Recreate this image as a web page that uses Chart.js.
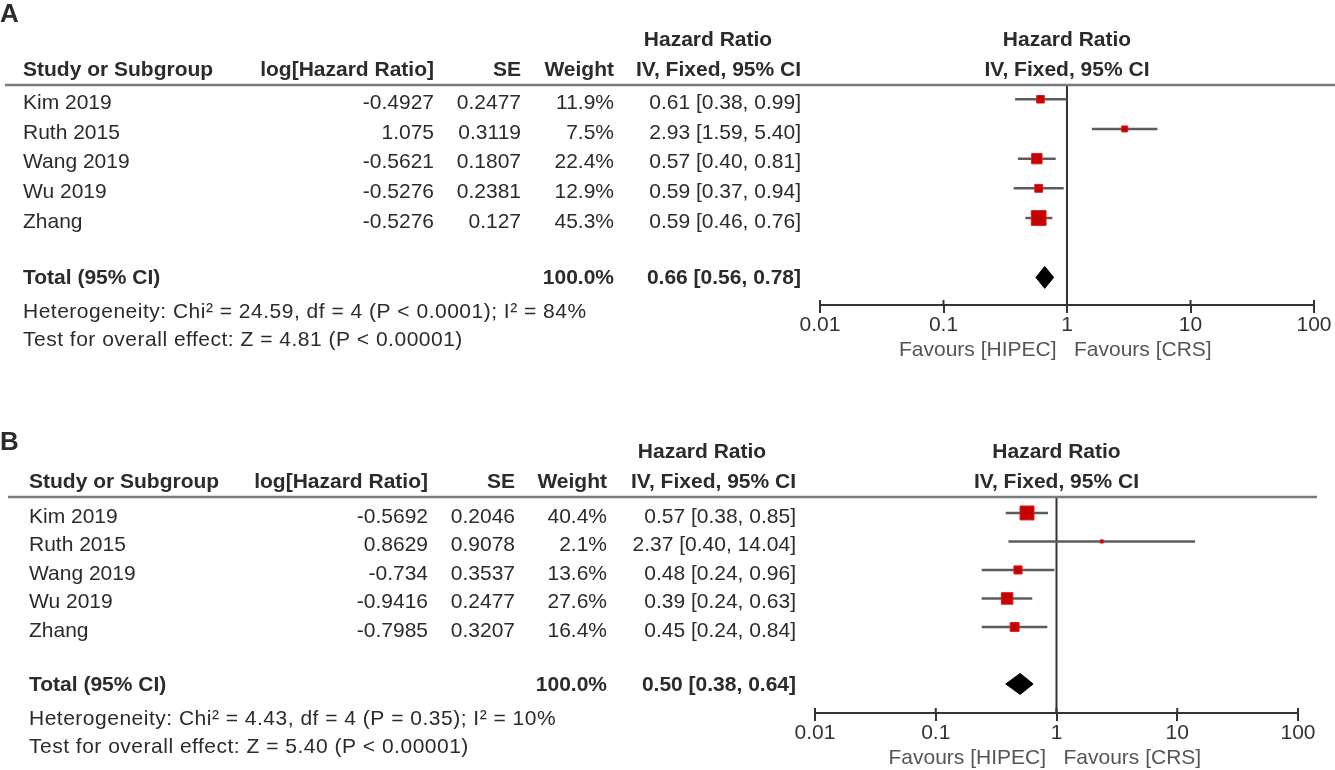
<!DOCTYPE html>
<html lang="en">
<head>
<meta charset="UTF-8">
<title>Forest plot - HIPEC vs CRS</title>
<script src="https://cdn.jsdelivr.net/npm/chart.js"></script>
<style>
  html, body { margin: 0; padding: 0; background: #fff; overflow: hidden; }
  canvas { position: absolute; left: 0; }
  #chartA { top: 0; }
  #chartB { top: 412px; }
</style>
</head>
<body>
<canvas id="chartA" width="1335" height="390"></canvas>
<canvas id="chartB" width="1335" height="386"></canvas>
<script>
// ---- data ----
const studies = ['Kim 2019', 'Ruth 2015', 'Wang 2019', 'Wu 2019', 'Zhang'];
const tickValues = [0.01, 0.1, 1, 10, 100];

// panel A
const aLogHR = [-0.4927, 1.075, -0.5621, -0.5276, -0.5276];
const aSE = [0.2477, 0.3119, 0.1807, 0.2381, 0.127];
const aWeight = [11.9, 7.5, 22.4, 12.9, 45.3];
const aHR = [0.61, 2.93, 0.57, 0.59, 0.59];
const aLow = [0.38, 1.59, 0.40, 0.37, 0.46];
const aHigh = [0.99, 5.40, 0.81, 0.94, 0.76];
const aTotal = [0.66, 0.56, 0.78]; // HR, low, high
const aHet = 'Heterogeneity: Chi\u00B2 = 24.59, df = 4 (P < 0.0001); I\u00B2 = 84%';
const aTest = 'Test for overall effect: Z = 4.81 (P < 0.00001)';

// panel B
const bLogHR = [-0.5692, 0.8629, -0.734, -0.9416, -0.7985];
const bSE = [0.2046, 0.9078, 0.3537, 0.2477, 0.3207];
const bWeight = [40.4, 2.1, 13.6, 27.6, 16.4];
const bHR = [0.57, 2.37, 0.48, 0.39, 0.45];
const bLow = [0.38, 0.40, 0.24, 0.24, 0.24];
const bHigh = [0.85, 14.04, 0.96, 0.63, 0.84];
const bTotal = [0.50, 0.38, 0.64];
const bHet = 'Heterogeneity: Chi\u00B2 = 4.43, df = 4 (P = 0.35); I\u00B2 = 10%';
const bTest = 'Test for overall effect: Z = 5.40 (P < 0.00001)';

const FONT = '"Liberation Sans", Arial, sans-serif';
const TXT = '#2b2b2b';

function ciText(hr, lo, hi) {
    return hr.toFixed(2) + ' [' + lo.toFixed(2) + ', ' + hi.toFixed(2) + ']';
}

// draws the table part, headers and extra tick marks
const forestTable = {
    id: 'forestTable',
    afterDraw(chart, args, o) {
        const ctx = chart.ctx;
        const area = chart.chartArea;
        const ys = chart.scales.y;
        const xs = chart.scales.x;
        const c = o.cols;
        ctx.save();
        ctx.fillStyle = TXT;
        ctx.textBaseline = 'middle';

        // panel letter
        ctx.font = 'bold 26px ' + FONT;
        ctx.textAlign = 'left';
        ctx.fillText(o.letter, 0, o.letterY);

        // header
        const h1 = area.top - 45, h2 = area.top - 15;
        ctx.font = 'bold 21px ' + FONT;
        ctx.textAlign = 'center';
        ctx.fillText('Hazard Ratio', c.hrHead, h1);
        const mid = (area.left + area.right) / 2;
        ctx.fillText('Hazard Ratio', mid, h1);
        ctx.fillText('IV, Fixed, 95% CI', mid, h2);
        ctx.textAlign = 'left';
        ctx.fillText('Study or Subgroup', c.study, h2);
        ctx.textAlign = 'right';
        ctx.fillText('log[Hazard Ratio]', c.logHR, h2);
        ctx.fillText('SE', c.se, h2);
        ctx.fillText('Weight', c.weight, h2);
        ctx.fillText('IV, Fixed, 95% CI', c.ci, h2);

        ctx.strokeStyle = '#7a7a7a';
        ctx.lineWidth = 2.5;
        ctx.beginPath();
        ctx.moveTo(o.lineFrom, area.top);
        ctx.lineTo(o.lineTo, area.top);
        ctx.stroke();

        // study rows
        ctx.font = '21px ' + FONT;
        studies.forEach((s, i) => {
            const y = ys.getPixelForValue(i + 1) + 4;
            ctx.textAlign = 'left';
            ctx.fillText(s, c.study, y);
            ctx.textAlign = 'right';
            ctx.fillText(String(o.logHR[i]), c.logHR, y);
            ctx.fillText(String(o.se[i]), c.se, y);
            ctx.fillText(o.weight[i].toFixed(1) + '%', c.weight, y);
            ctx.fillText(ciText(o.hr[i], o.low[i], o.high[i]), c.ci, y);
        });

        // total row
        const ty = ys.getPixelForValue(studies.length + 2);
        ctx.font = 'bold 21px ' + FONT;
        ctx.textAlign = 'left';
        ctx.fillText('Total (95% CI)', c.study, ty + 1);
        ctx.textAlign = 'right';
        ctx.fillText('100.0%', c.weight, ty + 1);
        ctx.fillText(ciText(o.total[0], o.total[1], o.total[2]), c.ci, ty + 1);

        // footer lines are a bit looser in the original
        ctx.font = '21px ' + FONT;
        ctx.textAlign = 'left';
        ctx.letterSpacing = '0.5px';
        ctx.fillText(o.het, c.study, ty + 35);
        ctx.fillText(o.test, c.study, ty + 63);
        ctx.letterSpacing = '0px';

        // small tick marks above the axis line
        ctx.strokeStyle = '#333';
        ctx.lineWidth = 2;
        tickValues.forEach(v => {
            const x = xs.getPixelForValue(v);
            ctx.beginPath();
            ctx.moveTo(x, area.bottom - 5);
            ctx.lineTo(x, area.bottom);
            ctx.stroke();
        });
        ctx.restore();
    }
};

function forestChart(id, p) {
    const n = studies.length;
    const ty = n + 2;
    const datasets = [];
    // line of no effect
    datasets.push({
        data: [{x: 1, y: p.yMin}, {x: 1, y: p.yMax}],
        showLine: true, borderColor: '#333', borderWidth: 2, pointRadius: 0, order: 3
    });
    // confidence intervals
    studies.forEach((s, i) => {
        datasets.push({
            data: [{x: p.low[i], y: i + 1}, {x: p.high[i], y: i + 1}],
            showLine: true, borderColor: '#5c5c5c', borderWidth: 2.5, pointRadius: 0, order: 2
        });
    });
    // study estimates, box size from weight
    datasets.push({
        data: p.hr.map((v, i) => ({x: v, y: i + 1})),
        pointStyle: 'rect',
        pointRadius: p.weight.map(w => 1.55 * Math.sqrt(w)),
        backgroundColor: '#c40000', borderColor: '#dd1a1a', borderWidth: 1, order: 1
    });
    // pooled diamond
    datasets.push({
        data: [
            {x: p.total[1], y: ty}, {x: p.total[0], y: ty - 0.37},
            {x: p.total[2], y: ty}, {x: p.total[0], y: ty + 0.37},
            {x: p.total[1], y: ty}
        ],
        showLine: true, fill: 'shape', backgroundColor: '#000', borderColor: '#000',
        borderWidth: 1, pointRadius: 0, order: 0
    });

    new Chart(document.getElementById(id), {
        type: 'scatter',
        data: {datasets: datasets},
        plugins: [forestTable],
        options: {
            responsive: false,
            animation: false,
            events: [],
            layout: {padding: {left: p.padLeft, right: p.padRight, top: 85, bottom: 0}},
            plugins: {
                legend: {display: false},
                tooltip: {enabled: false},
                forestTable: p
            },
            scales: {
                x: {
                    type: 'logarithmic', min: 0.01, max: 100,
                    afterBuildTicks: s => { s.ticks = tickValues.map(v => ({value: v})); },
                    afterFit: s => { s.height = 85; },
                    ticks: {
                        callback: v => String(v), autoSkip: false, maxRotation: 0,
                        padding: 0, color: '#333', font: {family: FONT, size: 21}
                    },
                    grid: {drawOnChartArea: false, drawTicks: true, tickLength: 8, color: '#333', lineWidth: 2},
                    border: {display: true, color: '#333', width: 2},
                    title: {
                        display: true, text: 'Favours [HIPEC]   Favours [CRS]    ',
                        color: '#555', font: {family: FONT, size: 21},
                        padding: {top: 0, bottom: 27}
                    }
                },
                y: {display: false, reverse: true, min: p.yMin, max: p.yMax}
            }
        }
    });
}

forestChart('chartA', {
    letter: 'A', letterY: 15,
    logHR: aLogHR, se: aSE, weight: aWeight, hr: aHR, low: aLow, high: aHigh,
    total: aTotal, het: aHet, test: aTest,
    yMin: 0.52, yMax: 7.93, padLeft: 820, padRight: 21,
    lineFrom: 5, lineTo: 1335,
    cols: {study: 23, logHR: 434, se: 521, weight: 614, ci: 801, hrHead: 708}
});

forestChart('chartB', {
    letter: 'B', letterY: 31,
    logHR: bLogHR, se: bSE, weight: bWeight, hr: bHR, low: bLow, high: bHigh,
    total: bTotal, het: bHet, test: bTest,
    yMin: 0.44, yMax: 8.02, padLeft: 815, padRight: 37,
    lineFrom: 8, lineTo: 1317,
    cols: {study: 29, logHR: 428, se: 515, weight: 607, ci: 796, hrHead: 702}
});
</script>
</body>
</html>
